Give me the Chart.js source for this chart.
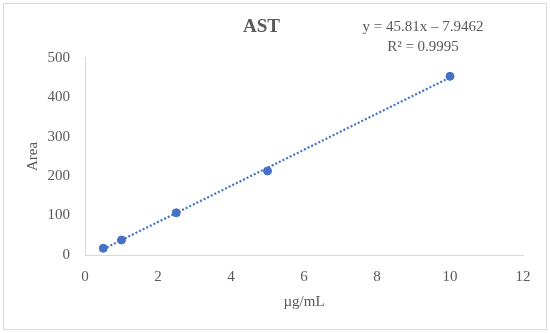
<!DOCTYPE html>
<html>
<head>
<meta charset="utf-8">
<script src="https://cdn.jsdelivr.net/npm/chart.js@4/dist/chart.umd.min.js"></script>
<style>
html,body{margin:0;padding:0;background:#fff;}
#wrap{width:550px;height:333px;position:relative;}
</style>
</head>
<body>
<div id="wrap"><canvas id="c" width="550" height="333"></canvas></div>
<script>
// Data
const concentrations = [0.5, 1, 2.5, 5, 10];           // µg/mL
const areas = [17, 38, 107, 213, 453];                 // Area
const trendSlope = 45.81;
const trendIntercept = -7.9462;
const trendRange = [0.5, 10];
const equationLines = ['y = 45.81x \u2013 7.9462', 'R\u00B2 = 0.9995'];
const xTicks = [0, 2, 4, 6, 8, 10, 12];
const yTicks = [0, 100, 200, 300, 400, 500];

const FONT = "'Liberation Serif', 'DejaVu Serif', serif";
const GRAY = '#595959';
const BLUE = '#4472C4';

const pointData = concentrations.map((x, i) => ({x: x, y: areas[i]}));
const trendData = trendRange.map(x => ({x: x, y: trendSlope * x + trendIntercept}));

const frame = {
  id: 'frame',
  beforeDraw(chart) {
    const ctx = chart.ctx;
    ctx.save();
    ctx.fillStyle = '#fff';
    ctx.fillRect(0, 0, chart.width, chart.height);
    ctx.strokeStyle = '#d9d9d9';
    ctx.lineWidth = 1;
    ctx.strokeRect(3.5, 3.5, chart.width - 7, chart.height - 7);
    ctx.restore();
  },
  afterDraw(chart) {
    const ctx = chart.ctx;
    ctx.save();
    ctx.fillStyle = GRAY;
    ctx.font = '15px ' + FONT;
    ctx.textAlign = 'center';
    ctx.textBaseline = 'middle';
    equationLines.forEach((t, i) => ctx.fillText(t, 423, 27 + i * 20));
    ctx.restore();
  }
};

new Chart(document.getElementById('c'), {
  type: 'scatter',
  data: {
    datasets: [
      {
        type: 'scatter',
        data: pointData,
        backgroundColor: BLUE,
        borderColor: BLUE,
        pointRadius: 4,
        pointHoverRadius: 4,
        order: 1
      },
      {
        type: 'line',
        data: trendData,
        borderColor: BLUE,
        borderWidth: 2.2,
        borderDash: [2, 2],
        pointRadius: 0,
        fill: false,
        order: 2
      }
    ]
  },
  options: {
    responsive: false,
    animation: false,
    layout: {padding: {left: 0, right: 27, top: 0, bottom: 0}},
    plugins: {
      legend: {display: false},
      tooltip: {enabled: false},
      title: {
        display: true,
        text: 'AST',
        color: GRAY,
        font: {family: FONT, size: 19, weight: 'bold'},
        padding: {top: 16, bottom: 19}
      }
    },
    scales: {
      x: {
        type: 'linear',
        min: 0, max: 12,
        afterBuildTicks(s) { s.ticks = xTicks.map(v => ({value: v})); },
        afterFit(s) { s.height = 78; },
        grid: {display: false, drawTicks: false},
        border: {display: true, color: '#d9d9d9', width: 1},
        ticks: {color: GRAY, font: {family: FONT, size: 15}, padding: 13, maxRotation: 0},
        title: {display: true, text: '\u00B5g/mL', color: GRAY, font: {family: FONT, size: 15}, padding: {top: 0, bottom: 22}}
      },
      y: {
        type: 'linear',
        min: 0, max: 500,
        afterBuildTicks(s) { s.ticks = yTicks.map(v => ({value: v})); },
        afterFit(s) { s.width = 85; },
        grid: {display: false, drawTicks: false},
        border: {display: true, color: '#d9d9d9', width: 1},
        ticks: {color: GRAY, font: {family: FONT, size: 15}, padding: 15},
        title: {display: true, text: 'Area', color: GRAY, font: {family: FONT, size: 15}, padding: {top: 24, bottom: 0}}
      }
    }
  },
  plugins: [frame]
});
</script>
</body>
</html>
